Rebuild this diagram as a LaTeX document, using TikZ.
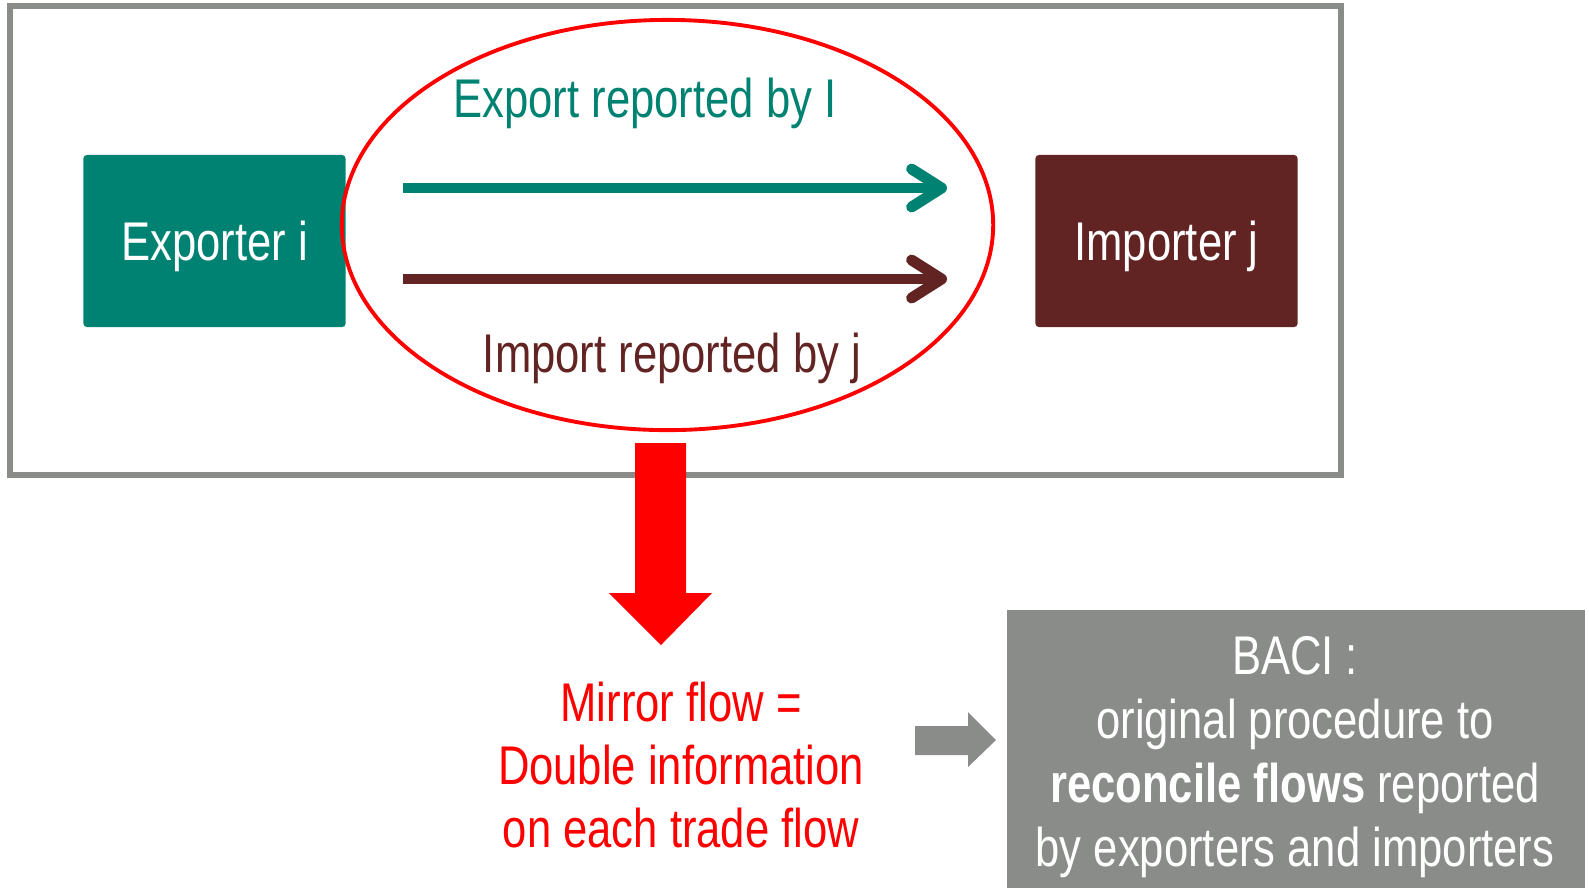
\documentclass[tikz,border=0pt]{standalone}
\usepackage{fontspec}
\setmainfont[FakeStretch=0.8]{Liberation Sans}
\usetikzlibrary{arrows.meta,shapes.geometric}
\definecolor{tradeTeal}{HTML}{008272}
\definecolor{tradeBrown}{HTML}{622423}
\definecolor{tradeGray}{HTML}{8A8C8A}

\begin{document}
\begin{tikzpicture}[x=0.01cm, y=-0.01cm, font=\fontsize{15.5}{18}\selectfont,
	partner/.style={rectangle, rounded corners=1pt, text=white, text depth=0pt, minimum width=2.62cm, minimum height=1.72cm, inner sep=0pt},
	flow/.style={line width=3.1pt, -{Straight Barb[length=3mm, width=3.8mm, round]}}]
	\useasboundingbox (0,0) rectangle (1589,887);
	\draw[color=tradeGray, line width=1.7pt] (10,6) rectangle (1341,475);
	\node[partner, fill=tradeTeal] (exporter) at (214.5,241) {Exporter i};
	\node[partner, fill=tradeBrown] (importer) at (1166.5,241) {Importer j};
	\node[ellipse, draw=red, line width=1.1pt, minimum width=6.51cm, minimum height=4.10cm, inner sep=0pt] (mirror) at (667.5,225) {};
	\coordinate (expS) at (403,188);
	\coordinate (expE) at (947,188);
	\coordinate (impS) at (403,279);
	\coordinate (impE) at (947,279);
	\draw[flow, tradeTeal] (expS) -- (expE);
	\draw[flow, tradeBrown] (impS) -- (impE);
	\node[anchor=base, text=tradeTeal] (exptxt) at (645,117) {Export reported by I};
	\node[anchor=base, text=tradeBrown] (imptxt) at (672,372) {Import reported by j};
	% mirror flow
	\fill[red] (635,443) -- (686,443) -- (686,593) -- (712,593) -- (661,645) -- (609,593) -- (635,593) -- cycle;
	\node[anchor=base, text=red, align=center, font=\fontsize{15.5}{17.9}\selectfont] (mirrortxt) at (681,847) {Mirror flow =\\Double information\\on each trade flow};
	\fill[tradeGray] (915,726) -- (968,726) -- (968,712) -- (996,740) -- (968,767) -- (968,755) -- (915,755) -- cycle;
	\node[fill=tradeGray, anchor=north west, minimum width=5.78cm, minimum height=2.78cm, inner sep=0pt] (baci) at (1006,609) {};
	\node[anchor=base, text=white, align=center, font=\fontsize{15.5}{18.2}\selectfont] (bacitxt) at (1295,866) {BACI :\\original procedure to\\\textbf{reconcile flows} reported\\by exporters and importers};
\end{tikzpicture}
\end{document}
